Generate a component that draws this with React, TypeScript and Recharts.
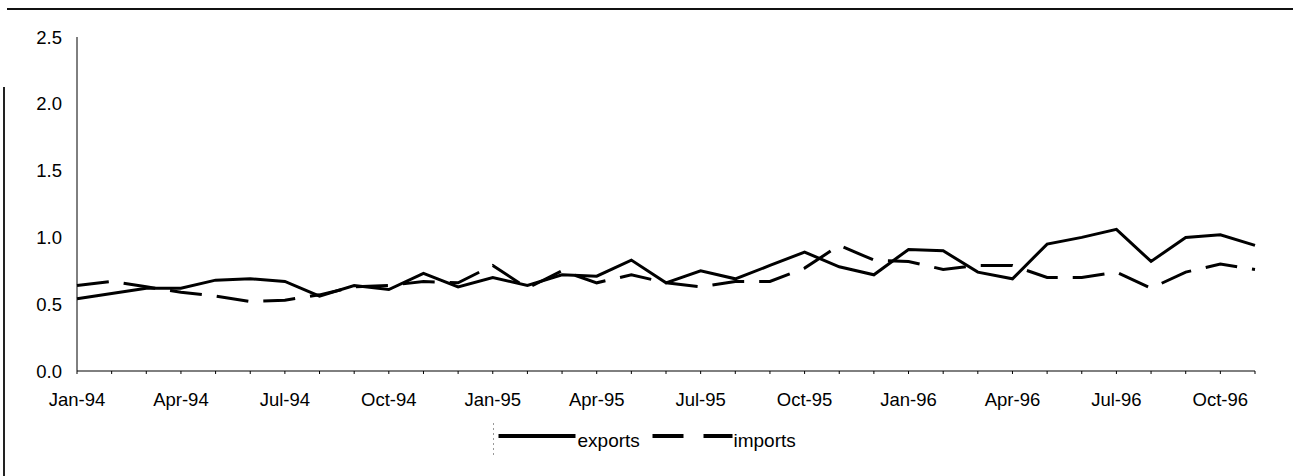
import { LineChart, Line, XAxis, YAxis, Legend } from "recharts";

const months = [
  "Jan-94", "Feb-94", "Mar-94", "Apr-94", "May-94", "Jun-94", "Jul-94", "Aug-94", "Sep-94", "Oct-94", "Nov-94", "Dec-94",
  "Jan-95", "Feb-95", "Mar-95", "Apr-95", "May-95", "Jun-95", "Jul-95", "Aug-95", "Sep-95", "Oct-95", "Nov-95", "Dec-95",
  "Jan-96", "Feb-96", "Mar-96", "Apr-96", "May-96", "Jun-96", "Jul-96", "Aug-96", "Sep-96", "Oct-96", "Nov-96",
];

const exportsSeries = [
  0.54, 0.58, 0.62, 0.62, 0.68, 0.69, 0.67, 0.56, 0.64, 0.61, 0.73, 0.63,
  0.7, 0.64, 0.72, 0.71, 0.83, 0.66, 0.75, 0.69, 0.79, 0.89, 0.78, 0.72,
  0.91, 0.9, 0.74, 0.69, 0.95, 1.0, 1.06, 0.82, 1.0, 1.02, 0.94,
];

const importsSeries = [
  0.64, 0.67, 0.63, 0.59, 0.56, 0.52, 0.53, 0.57, 0.63, 0.64, 0.67, 0.66,
  0.79, 0.62, 0.75, 0.66, 0.72, 0.66, 0.63, 0.67, 0.67, 0.77, 0.94, 0.83,
  0.82, 0.76, 0.79, 0.79, 0.7, 0.7, 0.74, 0.62, 0.74, 0.8, 0.76,
];

const quarterLabels = [
  "Jan-94", "Apr-94", "Jul-94", "Oct-94", "Jan-95", "Apr-95",
  "Jul-95", "Oct-95", "Jan-96", "Apr-96", "Jul-96", "Oct-96",
];

const yTicks = [0, 0.5, 1, 1.5, 2, 2.5];

const data = months.map((m, i) => ({
  month: m,
  exports: exportsSeries[i],
  imports: importsSeries[i],
}));

const font = "'Liberation Sans', Arial, sans-serif";

function ChartLegend() {
  return (
    <svg width={310} height={24} style={{ overflow: "visible", display: "block" }}>
      <line x1={1.5} y1={-5} x2={1.5} y2={29} stroke="#999" strokeWidth={1} strokeDasharray="2 3" />
      <line x1={6.5} y1={8} x2={83.5} y2={8} stroke="#000" strokeWidth={4} />
      <text x={85.5} y={19} fontSize={19} fontFamily={font} fill="#000">exports</text>
      <line x1={160.5} y1={8} x2={240.5} y2={8} stroke="#000" strokeWidth={4} strokeDasharray="31 20" />
      <text x={241.5} y={19} fontSize={19} fontFamily={font} fill="#000">imports</text>
    </svg>
  );
}

export default function App() {
  return (
    <div style={{ position: "absolute", left: 0, top: 0, width: 1293, height: 476, background: "#fff", fontFamily: font }}>
      <div style={{ position: "absolute", left: 7, top: 8, width: 1286, height: 2, background: "#111" }} />
      <div style={{ position: "absolute", left: 3, top: 87, width: 1.5, height: 389, background: "#222" }} />
      <LineChart width={1293} height={476} data={data} margin={{ top: 37, right: 38, left: 0, bottom: 24 }}>
        <XAxis
          dataKey="month"
          interval={0}
          height={57}
          tickSize={3}
          tickMargin={19}
          stroke="#000"
          tick={{ fill: "#000", fontSize: 18.5, fontFamily: font }}
          tickFormatter={(v: string) => (quarterLabels.includes(v) ? v : "")}
        />
        <YAxis
          width={77}
          domain={[0, 2.5]}
          ticks={yTicks}
          tickSize={0}
          tickMargin={15}
          stroke="#000"
          tick={{ fill: "#000", fontSize: 18.5, fontFamily: font }}
          tickFormatter={(v: number) => v.toFixed(1)}
        />
        <Legend
          verticalAlign="bottom"
          wrapperStyle={{ left: 491.5, width: 310 }}
          content={() => <ChartLegend />}
        />
        <Line
          type="linear"
          dataKey="exports"
          stroke="#000"
          strokeWidth={3}
          dot={false}
          isAnimationActive={false}
        />
        <Line
          type="linear"
          dataKey="imports"
          stroke="#000"
          strokeWidth={3}
          strokeDasharray="32 15"
          dot={false}
          isAnimationActive={false}
        />
      </LineChart>
    </div>
  );
}
